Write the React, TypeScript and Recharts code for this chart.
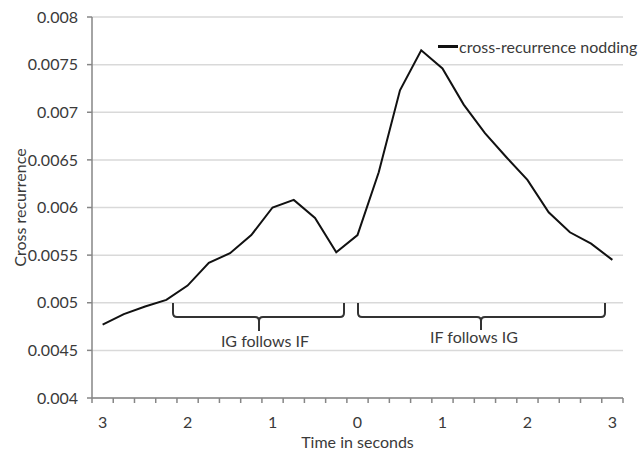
import React from 'react';
import { LineChart, Line, XAxis, YAxis, CartesianGrid, Legend } from 'recharts';

// time lag in seconds (negative side: IG follows IF, positive side: IF follows IG)
const times = [
  -3, -2.75, -2.5, -2.25, -2, -1.75, -1.5, -1.25, -1, -0.75, -0.5, -0.25, 0,
  0.25, 0.5, 0.75, 1, 1.25, 1.5, 1.75, 2, 2.25, 2.5, 2.75, 3,
];
const crossRecurrence = [
  0.00477, 0.00488, 0.00496, 0.00503, 0.00518, 0.00542, 0.00552, 0.00571, 0.006,
  0.00608, 0.00589, 0.00553, 0.00571, 0.00637, 0.00723, 0.00765, 0.00746, 0.00708,
  0.00678, 0.00653, 0.00629, 0.00595, 0.00574, 0.00562, 0.00545,
];
const secondTicks = [-3, -2, -1, 0, 1, 2, 3];
const yTicks = [0.004, 0.0045, 0.005, 0.0055, 0.006, 0.0065, 0.007, 0.0075, 0.008];
const seriesName = 'cross-recurrence nodding';

const data = times.map((t, i) => ({ t, value: crossRecurrence[i] }));
const boundaryTicks = [...times.map((t) => t - 0.125), times[times.length - 1] + 0.125];
const xDomain = [boundaryTicks[0], boundaryTicks[boundaryTicks.length - 1]];

const font = 'Lato, "Open Sans", sans-serif';
const textColor = '#3a3a3a';
const axisColor = '#868686';
const fontSize = 16;

const LegendContent = () => (
  <div style={{ display: 'flex', alignItems: 'center', fontFamily: font, fontSize, color: textColor, whiteSpace: 'nowrap' }}>
    <span style={{ display: 'inline-block', width: 20, height: 3, background: '#111', marginRight: 1 }} />
    {seriesName}
  </div>
);

const Brackets = () => (
  <svg width={638} height={452} style={{ position: 'absolute', left: 0, top: 0, pointerEvents: 'none' }}>
    <g fill="none" stroke="#333" strokeWidth={2}>
      <path d="M173,303 L173,313 Q173,317 177,317 L255,317 Q259,317 259,321 L259,331 M259,321 Q259,317 263,317 L340,317 Q344,317 344,313 L344,303" />
      <path d="M358,303 L358,313 Q358,317 362,317 L477,317 Q481,317 481,321 L481,330 M481,321 Q481,317 485,317 L601,317 Q605,317 605,313 L605,303" />
    </g>
    <g fontFamily={font} fontSize={fontSize} fill={textColor} textAnchor="middle">
      <text x={265} y={347}>IG follows IF</text>
      <text x={474} y={343}>IF follows IG</text>
    </g>
  </svg>
);

export default function App() {
  return (
    <div style={{ position: 'absolute', left: 0, top: 0, width: 638, height: 452, background: '#fff' }}>
      <LineChart width={638} height={452} data={data} margin={{ top: 17, right: 15, bottom: 0, left: 0 }}>
        <CartesianGrid xAxisId="grid" vertical={false} stroke="#d9d9d9" strokeWidth={1.5} />
        <XAxis
          xAxisId="grid"
          type="number"
          dataKey="t"
          domain={xDomain}
          ticks={boundaryTicks}
          tickFormatter={() => ''}
          height={6}
          tickSize={5}
          stroke={axisColor}
          axisLine={{ stroke: axisColor, strokeWidth: 1.5 }}
          tickLine={{ stroke: axisColor, strokeWidth: 1.5 }}
        />
        <XAxis
          xAxisId="labels"
          type="number"
          dataKey="t"
          domain={xDomain}
          ticks={secondTicks}
          tickFormatter={(v) => String(Math.abs(v))}
          height={48}
          axisLine={false}
          tickLine={false}
          tickSize={6}
          tickMargin={7}
          tick={{ fill: textColor, fontSize, fontFamily: font }}
          label={{ value: 'Time in seconds', position: 'insideBottom', offset: 4, fill: textColor, fontSize, fontFamily: font }}
        />
        <YAxis
          width={92}
          domain={[0.004, 0.008]}
          ticks={yTicks}
          tickFormatter={(v) => String(v)}
          tickSize={5}
          tickMargin={9}
          tick={{ fill: textColor, fontSize, fontFamily: font }}
          axisLine={{ stroke: axisColor, strokeWidth: 1.5 }}
          tickLine={{ stroke: axisColor, strokeWidth: 1.5 }}
          label={{
            content: ({ viewBox }: any) => {
              const x = viewBox.x + 19;
              const y = viewBox.y + viewBox.height / 2;
              return (
                <text x={x} y={y} transform={`rotate(-90 ${x} ${y})`} textAnchor="middle" dominantBaseline="central" fill={textColor} fontSize={fontSize} fontFamily={font}>
                  Cross recurrence
                </text>
              );
            },
          }}
        />
        <Legend
          layout="vertical"
          align="center"
          verticalAlign="middle"
          content={LegendContent}
          wrapperStyle={{ position: 'absolute', left: 438, top: 37, width: 200 }}
        />
        <Line
          xAxisId="grid"
          type="linear"
          dataKey="value"
          name={seriesName}
          stroke="#111"
          strokeWidth={2}
          dot={false}
          isAnimationActive={false}
        />
      </LineChart>
      <Brackets />
    </div>
  );
}
